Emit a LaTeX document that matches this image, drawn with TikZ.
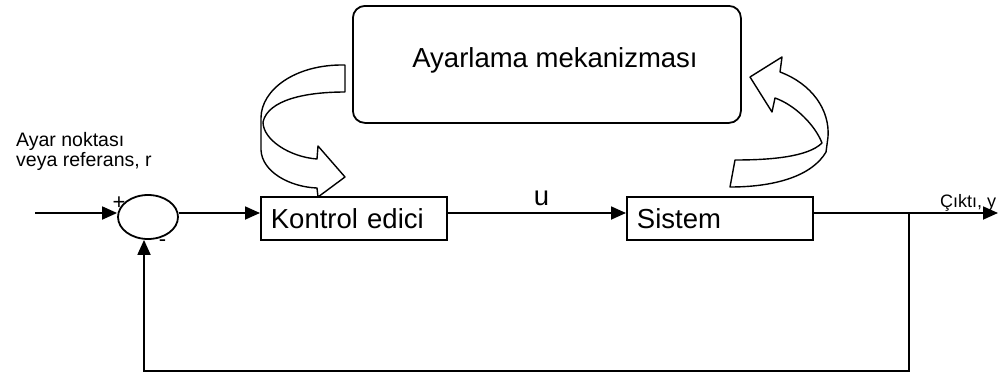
\documentclass[tikz,border=0pt]{standalone}
\usepackage{fontspec}
\setmainfont{Liberation Sans}
\usetikzlibrary{arrows.meta,shapes.geometric}

\begin{document}
\begin{tikzpicture}[x=1pt,y=-1pt,
  line width=1.8pt,
  big/.style={font=\fontsize{27.5}{33}\selectfont},
  small/.style={font=\fontsize{19.5}{22}\selectfont},
  blk/.style={draw, rectangle, big, inner xsep=10pt, inner ysep=0pt,
    minimum height=43pt, text width=166pt, align=left, anchor=north west},
  sig/.style={-{Triangle[length=15pt,width=13pt]}},
  ribbon/.style={draw, fill=white, line width=1.4pt, line join=round}]

\useasboundingbox (0,0) rectangle (1000,375);

% adaptation block
\node[draw, rounded corners=12pt, minimum width=388pt, minimum height=117pt,
      anchor=north west, inner sep=0pt] (adj) at (352,5) {};
\node[big, anchor=base] (adjtxt) at (555,67) {Ayarlama mekanizması};

% summing junction and blocks
\node[draw, ellipse, minimum width=60pt, minimum height=44pt, inner sep=0pt] (sum) at (148,217) {};
\node[blk] (ctrl) at (260,196) {Kontrol edici};
\node[blk] (sys) at (626,196) {Sistem};

% signal path
\coordinate (rin) at (35,213);
\coordinate (yend) at (998,213);
\coordinate (tap) at (909,213);
\coordinate (fbr) at (909,371);
\coordinate (fbl) at (144,371);
\draw[sig] (rin) -- (sum.west |- rin);
\draw[sig] (sum.east |- rin) -- (ctrl.west |- rin);
\draw[sig] (ctrl.east |- rin) -- (sys.west |- rin);
\draw[sig] (sys.east |- rin) -- (yend);
\draw[sig] (tap) -- (fbr) -- (fbl) -- (fbl |- sum.south);

% labels
\node[big, anchor=base] (ulbl) at (541.5,205) {u};
\node[font=\fontsize{22}{22}\selectfont] (plus) at (119,203) {+};
\node[font=\fontsize{22}{22}\selectfont] (minus) at (162.5,243) {-};
\node[small, anchor=base west] (ref1) at (12,146) {Ayar noktası};
\node[small, anchor=base west] (ref2) at (12,166) {veya referans, r};
\node[font=\fontsize{18}{20}\selectfont, anchor=base east, inner xsep=1pt] (ylbl) at (998,207) {Çıktı, y};

% curved arrow: adaptation -> controller
\path[ribbon] (345,65) .. controls (295,64) and (261,90) .. (261,118)
  -- (261,150)
  .. controls (262,172) and (290,187) .. (317,188)
  -- (318,197) -- (345,177) -- (318,146) -- (317,159)
  .. controls (290,157) and (263,140) .. (263,122)
  .. controls (268,100) and (305,92) .. (345,92)
  -- cycle;

% curved arrow: system -> adaptation
\path[ribbon] (730,187) -- (735,160)
  .. controls (770,160) and (808,157) .. (822,143)
  .. controls (815,125) and (795,105) .. (775,98)
  -- (772,112) -- (750,77) -- (782,57) -- (780,72)
  .. controls (812,84) and (830,110) .. (828,137)
  -- (826,152)
  .. controls (812,176) and (775,187) .. (730,187) -- cycle;

\end{tikzpicture}
\end{document}
